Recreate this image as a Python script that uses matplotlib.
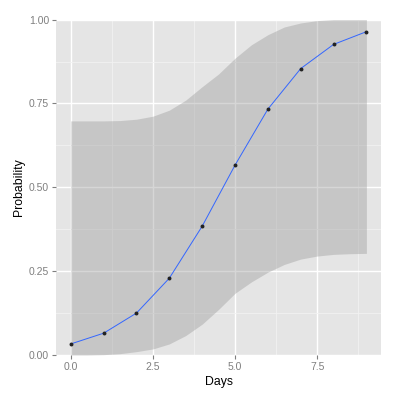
import matplotlib
matplotlib.use("Agg")
import matplotlib.pyplot as plt
from matplotlib.ticker import MultipleLocator

# Observed points
days = [0, 1, 2, 3, 4, 5, 6, 7, 8, 9]
prob = [0.033, 0.065, 0.125, 0.229, 0.384, 0.566, 0.733, 0.854, 0.926, 0.964]

# Confidence band
band_x = [0, 0.5, 1, 1.5, 2, 2.5, 3, 3.5, 4, 4.5, 5, 5.5, 6, 6.5, 7, 7.5, 8, 8.5, 9]
band_lo = [0.0, 0.0, 0.001, 0.004, 0.010, 0.018, 0.033, 0.058, 0.092, 0.136,
           0.184, 0.218, 0.247, 0.270, 0.286, 0.295, 0.300, 0.302, 0.303]
band_hi = [0.698, 0.698, 0.698, 0.699, 0.703, 0.712, 0.730, 0.760, 0.800, 0.838,
           0.885, 0.925, 0.955, 0.978, 0.990, 0.997, 1.0, 1.0, 1.0]

xticks = [0.0, 2.5, 5.0, 7.5]
xtick_labels = ["0.0", "2.5", "5.0", "7.5"]
yticks = [0.00, 0.25, 0.50, 0.75, 1.00]
ytick_labels = ["0.00", "0.25", "0.50", "0.75", "1.00"]

plt.rcParams['font.family'] = ['Liberation Sans', 'DejaVu Sans']

fig = plt.figure(figsize=(4, 4), dpi=100)
ax = fig.add_axes([0.14, 0.1125, 0.813, 0.8385])
ax.set_facecolor('#E5E5E5')

ax.set_xlim(-0.45, 9.45)
ax.set_ylim(0, 1)

ax.xaxis.set_minor_locator(MultipleLocator(1.25))
ax.yaxis.set_minor_locator(MultipleLocator(0.125))
ax.grid(True, which='major', color='white', linewidth=1.0)
ax.grid(True, which='minor', color='#F2F2F2', linewidth=0.6)
ax.set_axisbelow(True)

ax.fill_between(band_x, band_lo, band_hi, color='#999999', alpha=0.4, linewidth=0, zorder=2)
ax.plot(days, prob, color='#3366FF', linewidth=0.7, zorder=3)
ax.scatter(days, prob, s=8, color='#222222', linewidths=0, zorder=4)

ax.set_xticks(xticks)
ax.set_xticklabels(xtick_labels)
ax.set_yticks(yticks)
ax.set_yticklabels(ytick_labels)
ax.tick_params(axis='both', which='major', colors='#7F7F7F', labelcolor='#7F7F7F',
               labelsize=7.5, length=3, width=0.8, pad=2)
ax.tick_params(axis='both', which='minor', length=0)

for s in ax.spines.values():
    s.set_visible(False)

ax.set_xlabel("Days", fontsize=8.8, color='black', labelpad=3)
ax.set_ylabel("Probability", fontsize=8.8, color='black', labelpad=3)

fig.savefig("out.png", dpi=100, facecolor='white')
